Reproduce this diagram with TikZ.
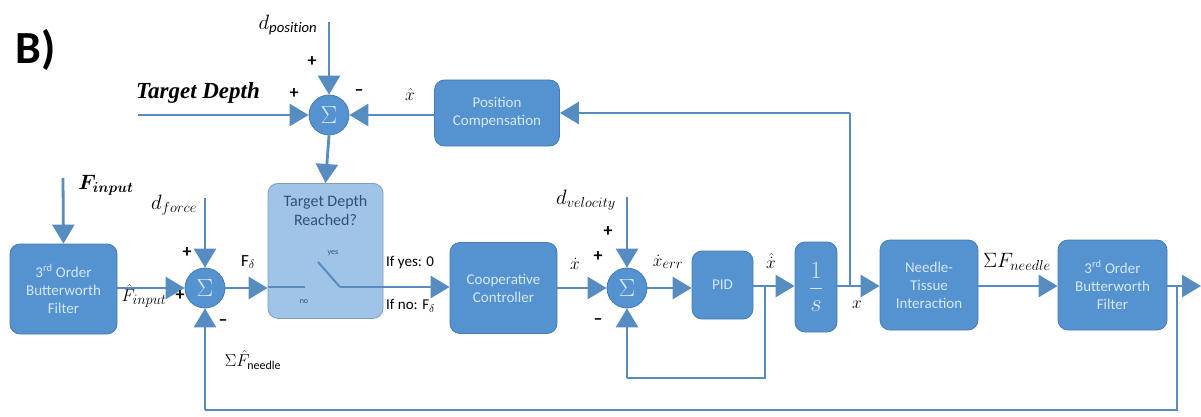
\documentclass[tikz,border=0pt]{standalone}
\usepackage{fontspec}
\setmainfont{Carlito}
\newfontfamily\lserif{Liberation Serif}
\usepackage{amsmath,bm}
\usetikzlibrary{arrows.meta}
\definecolor{boxblue}{RGB}{84,146,208}
\definecolor{lineblue}{RGB}{86,140,192}
\definecolor{lightbox}{RGB}{160,196,232}
\definecolor{boxtext}{RGB}{214,232,248}
\definecolor{swtext}{RGB}{50,80,115}
\tikzset{
  blk/.style={draw=boxblue!85!black,line width=0.8pt,fill=boxblue,rounded corners=10pt,text=boxtext,align=center,font=\fontsize{15}{18}\selectfont,inner sep=2pt},
  sumnode/.style={circle,fill=boxblue,draw=boxblue!85!black,line width=0.8pt,minimum size=40pt,inner sep=0pt,text=boxtext,font=\fontsize{24}{26}\selectfont},
  conn/.style={draw=lineblue,line width=2.8pt,-{Triangle[length=19pt,width=22pt]}},
  ln/.style={draw=lineblue,line width=2.8pt},
  lbl/.style={font=\fontsize{14}{16}\selectfont,inner sep=0pt},
  sgn/.style={font=\fontsize{18}{18}\selectfont\bfseries,inner sep=0pt}
}
\begin{document}
\begin{tikzpicture}[x=1pt,y=-1pt]
\useasboundingbox (0,0) rectangle (1201,417);
% title
\node[font=\fontsize{46}{50}\selectfont\bfseries,inner sep=0pt] (title) at (36,50) {B)};
% blocks
\node[sumnode] (sumT) at (329,115) {$\Sigma$};
\node[blk,minimum width=125pt,minimum height=66pt] (pc) at (497,113) {Position\\Compensation};
\node[blk,fill=lightbox,draw=lightbox!80!black,minimum width=115pt,minimum height=135pt,anchor=north] (sw) at (325.5,183) {};
\node[text=swtext,align=center,font=\fontsize{16}{19}\selectfont,inner sep=0pt] (swt) at (325.5,211) {Target Depth\\Reached?};
\node[blk,minimum width=107pt,minimum height=90pt] (bwL) at (63.5,289) {3$^{\text{rd}}$ Order\\Butterworth\\Filter};
\node[sumnode] (sumL) at (205,288) {$\Sigma$};
\node[blk,minimum width=107pt,minimum height=91pt] (cc) at (503.5,288) {Cooperative\\Controller};
\node[sumnode] (sumM) at (627,288) {$\Sigma$};
\node[blk,minimum width=61pt,minimum height=68pt] (pid) at (722.5,285) {PID};
\node[blk,minimum width=42pt,minimum height=90pt,font=\fontsize{24}{26}\selectfont] (integ) at (816,287) {$\dfrac{1}{s}$};
\node[blk,minimum width=98pt,minimum height=90pt] (nti) at (929,285) {Needle-\\Tissue\\Interaction};
\node[blk,minimum width=109pt,minimum height=90pt] (bwR) at (1112.5,285) {3$^{\text{rd}}$ Order\\Butterworth\\Filter};
% coordinates
\coordinate (tdIn) at (138,115);
\coordinate (dpos) at (329,22);
\coordinate (fin) at (63,178);
\coordinate (dfor) at (205,198);
\coordinate (dvel) at (627,197);
\coordinate (swA) at (305,287);
\coordinate (swB) at (318,262);
\coordinate (swC) at (340,287);
\coordinate (pidB) at (765,286);
\coordinate (loopR) at (765,378);
\coordinate (loopL) at (627,378);
\coordinate (xj) at (850,286);
\coordinate (xt) at (850,113);
\coordinate (outB) at (1177,286);
\coordinate (out) at (1201,286);
\coordinate (fbR) at (1177,410);
\coordinate (fbL) at (205,410);
% connectors
\draw[conn] (tdIn) -- (sumT.west);
\draw[conn] (dpos) -- (sumT.north);
\draw[conn] (pc.west |- sumT) -- (sumT.east);
\draw[conn] (xt) -- (pc.east |- xt);
\draw[ln] (xj) -- (xt);
\draw[conn] (sumT.south) -- (sw.north);
\draw[conn] (fin) -- (bwL.north);
\draw[conn] (bwL.east |- sumL) -- (sumL.west);
\draw[conn] (dfor) -- (sumL.north);
\draw[conn] (sumL.east) -- (sw.west |- sumL);
\draw[ln,line width=2pt] (sw.west |- swA) -- (swA);
\draw[ln,line width=2pt] (swB) -- (swC);
\draw[conn] (swC) -- (cc.west |- swC);
\draw[conn] (cc.east |- sumM) -- (sumM.west);
\draw[conn] (dvel) -- (sumM.north);
\draw[conn] (sumM.east) -- (pid.west |- sumM);
\draw[conn] (pid.east |- pidB) -- (integ.west |- pidB);
\draw[ln] (pidB) -- (loopR) -- (loopL);
\draw[conn] (loopL) -- (sumM.south);
\draw[conn] (integ.east |- xj) -- (nti.west |- xj);
\draw[conn] (nti.east |- xj) -- (bwR.west |- xj);
\draw[conn] (bwR.east |- out) -- (out);
\draw[ln] (outB) -- (fbR) -- (fbL);
\draw[conn] (fbL) -- (sumL.south);
% labels
\node[font=\fontsize{23}{25}\lserif\bfseries\itshape,inner sep=0pt] (tdl) at (198,93) {Target Depth};
\node[lbl,font=\fontsize{21}{23}\selectfont] (dposl) at (288,25) {$d_{\mathit{position}}$};
\node[sgn] (p1) at (312,62) {+};
\node[sgn] (p2) at (294,94) {+};
\node[sgn] (m1) at (359,93) {--};
\node[lbl,font=\fontsize{17}{18}\selectfont] (xhat) at (410,95) {$\hat{x}$};
\node[lbl,font=\fontsize{21}{23}\selectfont] (finl) at (106,185) {$\bm{F_{input}}$};
\node[lbl,font=\fontsize{20}{22}\selectfont] (dforl) at (174,205) {$d_{force}$};
\node[sgn] (p3) at (187,253) {+};
\node[sgn] (p4) at (180,296) {+};
\node[sgn] (m2) at (223,323) {--};
\node[lbl,font=\fontsize{19}{21}\selectfont] (fhl) at (144,296) {$\hat{F}_{input}$};
\node[lbl,font=\fontsize{19}{21}\selectfont] (sfhl) at (253,360) {$\Sigma\hat{F}_{\text{\fontsize{12}{13}\selectfont needle}}$};
\node[lbl,font=\fontsize{17}{18}\selectfont] (fdl) at (248,262) {F$_\delta$};
\node[lbl,font=\fontsize{8}{9}\selectfont,text=swtext] (yes) at (333,253) {yes};
\node[lbl,font=\fontsize{8}{9}\selectfont,text=swtext] (no) at (304,302) {no};
\node[lbl,font=\fontsize{15}{17}\selectfont,anchor=west] (ify) at (386,263) {If yes: 0};
\node[lbl,font=\fontsize{15}{17}\selectfont,anchor=west] (ifn) at (386,306) {If no: F$_\delta$};
\node[lbl,font=\fontsize{18}{20}\selectfont] (xd) at (575,264) {$\dot{x}$};
\node[lbl,font=\fontsize{20}{22}\selectfont] (dvl) at (586,200) {$d_{velocity}$};
\node[sgn] (p5) at (608,232) {+};
\node[sgn] (p6) at (598,257) {+};
\node[sgn] (m3) at (598,322) {--};
\node[lbl,font=\fontsize{19}{21}\selectfont] (xerr) at (668,262) {$\dot{x}_{err}$};
\node[lbl,font=\fontsize{18}{20}\selectfont] (xdh) at (771,261) {$\hat{\dot{x}}$};
\node[lbl,font=\fontsize{18}{20}\selectfont] (xl) at (857,305) {$x$};
\node[lbl,font=\fontsize{20}{22}\selectfont] (sfn) at (1017,262) {$\Sigma F_{needle}$};
\end{tikzpicture}
\end{document}
